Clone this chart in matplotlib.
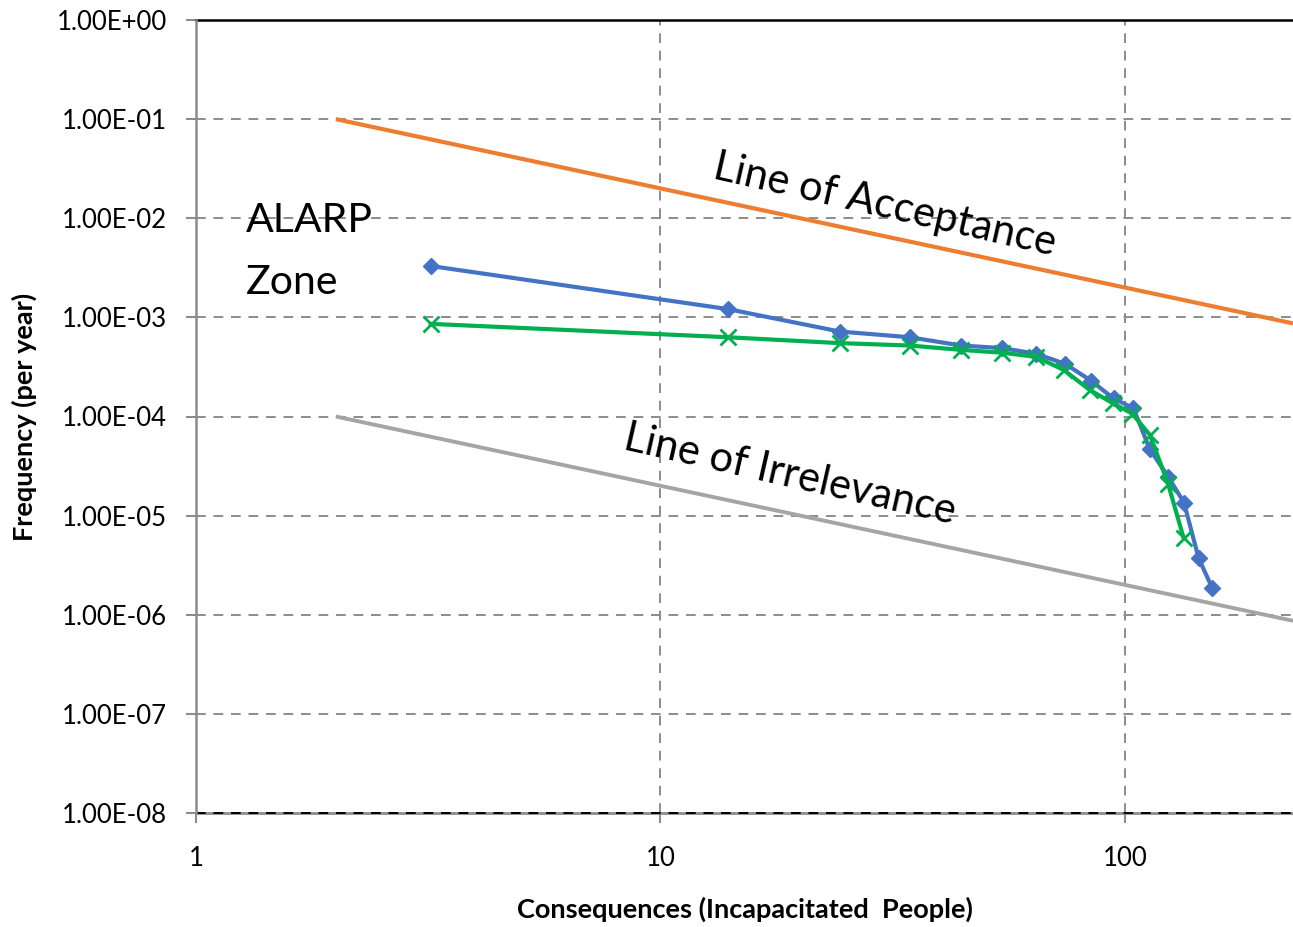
import matplotlib
matplotlib.use("Agg")
import matplotlib.pyplot as plt
import matplotlib.ticker as mticker
import numpy as np

plt.rcParams['font.family'] = ['Lato', 'DejaVu Sans']

# Cumulative F-N data
n_blue = [3.2, 14, 24.3, 34.4, 44.4, 54.4, 64.3, 74.3, 84.5, 94.5, 104.3, 113, 124, 134, 144, 154]
f_blue = [3.3e-3, 1.21e-3, 7.2e-4, 6.3e-4, 5.2e-4, 4.9e-4, 4.3e-4, 3.4e-4, 2.3e-4, 1.52e-4,
          1.21e-4, 4.7e-5, 2.45e-5, 1.35e-5, 3.75e-6, 1.87e-6]

n_green = [3.2, 14, 24.3, 34.4, 44.4, 54.4, 64.3, 73.8, 84, 94.2, 103.6, 113.2, 123.8, 133.8]
f_green = [8.6e-4, 6.3e-4, 5.5e-4, 5.2e-4, 4.7e-4, 4.4e-4, 4.0e-4, 2.95e-4, 1.85e-4, 1.36e-4,
           1.07e-4, 6.5e-5, 2.1e-5, 5.9e-6]

# criterion lines: F = C / N
n_crit = [2, 230]
f_accept = [0.1, 0.2 / 230]
f_irrel = [1e-4, 2e-4 / 230]

yticks = [1e0, 1e-1, 1e-2, 1e-3, 1e-4, 1e-5, 1e-6, 1e-7, 1e-8]
xticks = [1, 10, 100]

fig = plt.figure(figsize=(12.93, 9.27), dpi=100)
ax = fig.add_axes([196 / 1293, 1 - 813 / 927, 1 - 196 / 1293, (813 - 20) / 927])

ax.set_xscale('log')
ax.set_yscale('log')
ax.set_xlim(1, 230)
ax.set_ylim(1e-8, 1)

ax.plot(n_crit, f_accept, color='#ED7D31', lw=3, solid_capstyle='butt', zorder=3)
ax.plot(n_crit, f_irrel, color='#A5A5A5', lw=2.8, solid_capstyle='butt', zorder=3)
ax.plot(n_blue, f_blue, color='#4472C4', lw=3, marker='D', ms=8, zorder=4)
ax.plot(n_green, f_green, color='#00B050', lw=3, marker='x', ms=11, mew=2, zorder=5)

# grid
ax.grid(True, which='major', color='#8C8C8C', linestyle=(0, (5, 4)), lw=1.4)
ax.minorticks_off()
ax.axhline(1, color='black', lw=1.8, zorder=2, clip_on=False)
ax.axhline(1e-8, color='#8C8C8C', lw=2, zorder=2, clip_on=False)
ax.axhline(1e-8, color='black', lw=1.4, linestyle=(0, (5, 4)), zorder=2.5, clip_on=False)

for s in ['top', 'right', 'bottom']:
    ax.spines[s].set_visible(False)
ax.spines['left'].set_color('#8C8C8C')
ax.spines['left'].set_linewidth(1.8)

ax.set_yticks(yticks)
ax.yaxis.set_major_formatter(mticker.FuncFormatter(lambda v, p: "%.2E" % v))
ax.set_xticks(xticks)
ax.xaxis.set_major_formatter(mticker.FuncFormatter(lambda v, p: "%d" % round(v)))
ax.tick_params(axis='y', direction='out', length=7, width=1.5, color='#8C8C8C',
               labelsize=18.5, pad=14)
ax.tick_params(axis='x', direction='out', length=7, width=1.5, color='#8C8C8C',
               labelsize=18.5, pad=17)

ax.set_xlabel("Consequences (Incapacitated  People)", fontsize=19.5, fontweight='bold', labelpad=18)
ax.set_ylabel("Frequency (per year)", fontsize=19.5, fontweight='bold', labelpad=14)

ax.text(1.28, 7.26e-3, "ALARP", fontsize=29.5, va='baseline', ha='left')
ax.text(1.28, 1.72e-3, "Zone", fontsize=29.5, va='baseline', ha='left')
ax.text(30.4, 1.36e-2, "Line of Acceptance", fontsize=30, rotation=-12.8,
        rotation_mode='anchor', ha='center', va='center')
ax.text(19.0, 2.56e-5, "Line of Irrelevance", fontsize=30, rotation=-12.8,
        rotation_mode='anchor', ha='center', va='center')

fig.savefig("out.png", dpi=100)
